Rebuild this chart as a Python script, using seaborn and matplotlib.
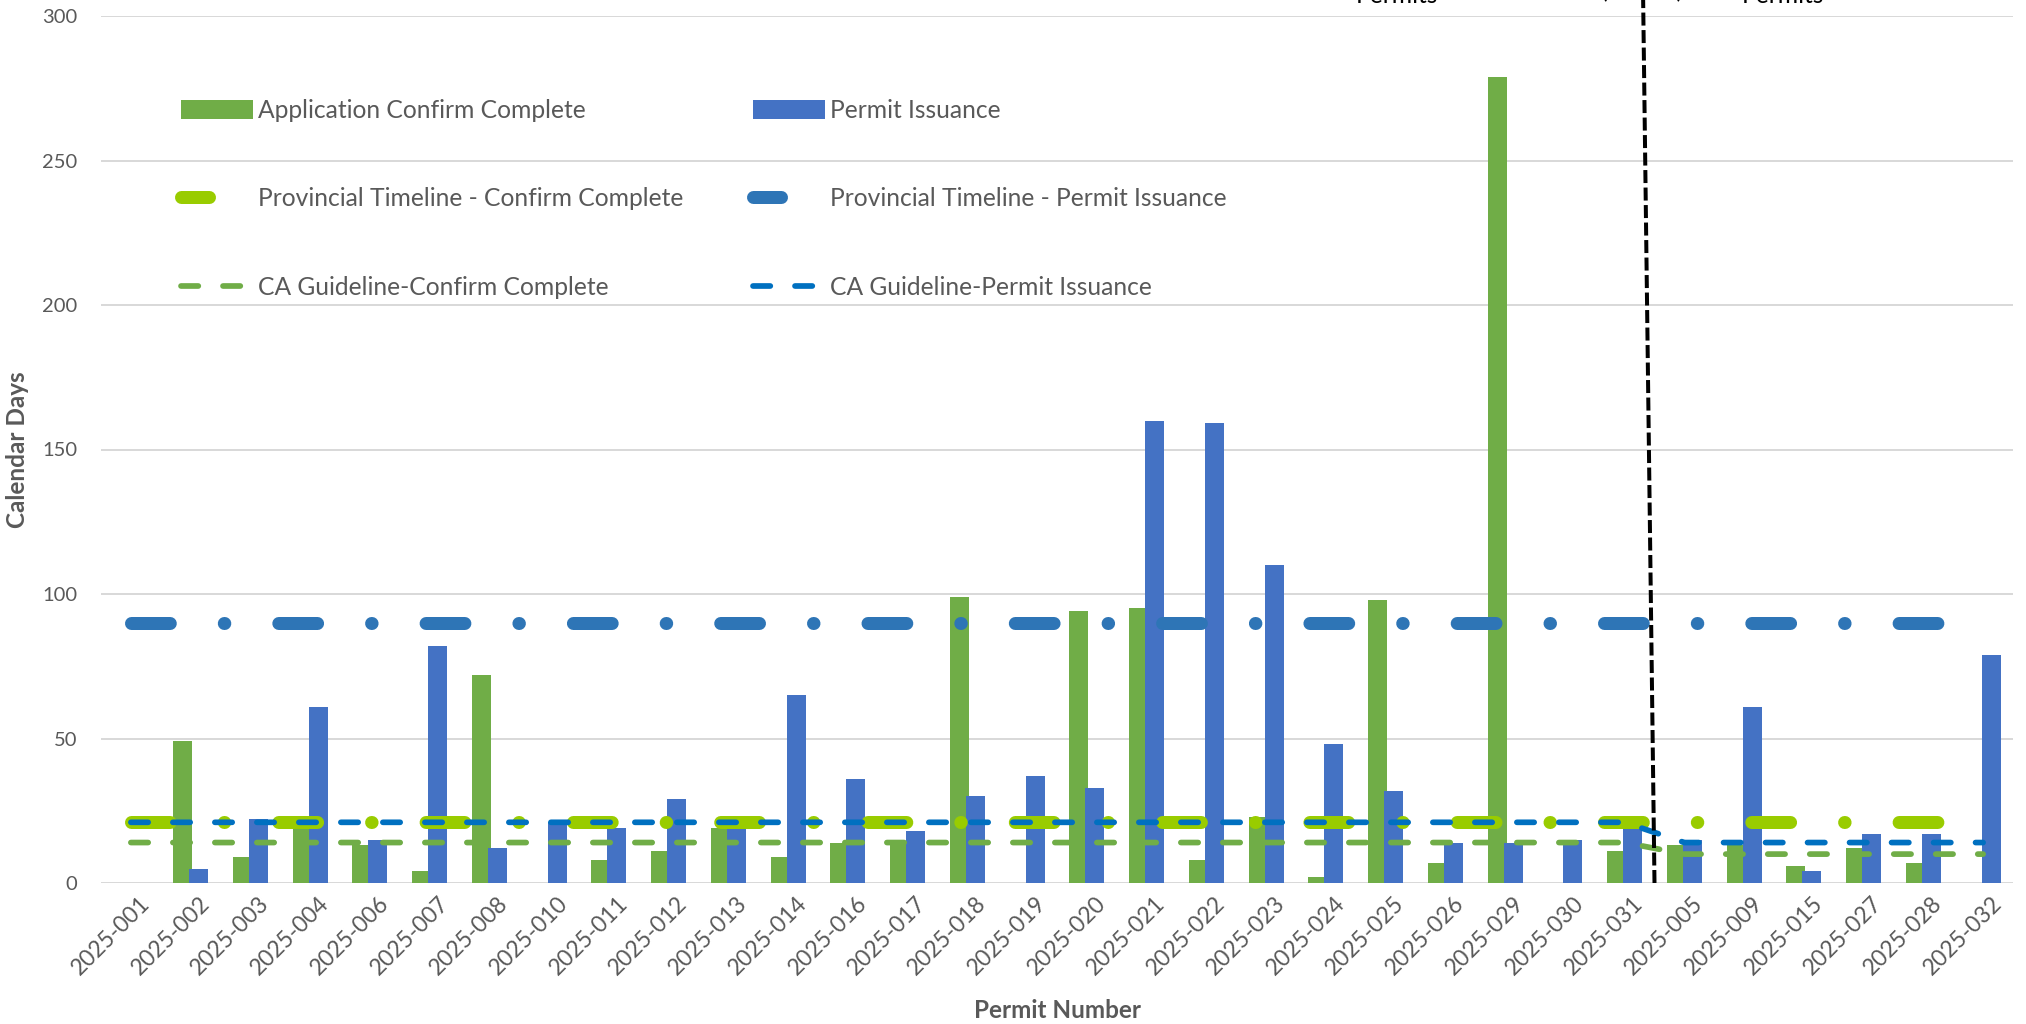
import matplotlib
matplotlib.use("Agg")
import matplotlib.pyplot as plt
from matplotlib.lines import Line2D
from matplotlib.patches import Patch
import matplotlib.transforms as mtransforms
import numpy as np
import pandas as pd
import seaborn as sns

# ---- data -------------------------------------------------------------
permits = [
    "2025-001", "2025-002", "2025-003", "2025-004", "2025-006", "2025-007",
    "2025-008", "2025-010", "2025-011", "2025-012", "2025-013", "2025-014",
    "2025-016", "2025-017", "2025-018", "2025-019", "2025-020", "2025-021",
    "2025-022", "2025-023", "2025-024", "2025-025", "2025-026", "2025-029",
    "2025-030", "2025-031", "2025-005", "2025-009", "2025-015", "2025-027",
    "2025-028", "2025-032",
]
confirm_days = [0, 49, 9, 21, 13, 4, 72, 0, 8, 11, 19, 9, 14, 14, 99, 0,
                94, 95, 8, 23, 2, 98, 7, 279, 0, 11, 13, 13, 6, 12, 7, 0]
issuance_days = [0, 5, 22, 61, 15, 82, 12, 21, 19, 29, 20, 65, 36, 18, 30, 37,
                 33, 160, 159, 110, 48, 32, 14, 14, 15, 20, 15, 61, 4, 17, 17, 79]
prov_confirm = [21, 21, 21, 21, 21, 21, 21, 21, 21, 21, 21, 21, 21, 21, 21, 21,
                21, 21, 21, 21, 21, 21, 21, 21, 21, 21, 21, 21, 21, 21, 21, 21]
prov_issuance = [90, 90, 90, 90, 90, 90, 90, 90, 90, 90, 90, 90, 90, 90, 90, 90,
                 90, 90, 90, 90, 90, 90, 90, 90, 90, 90, 90, 90, 90, 90, 90, 90]
ca_confirm = [14, 14, 14, 14, 14, 14, 14, 14, 14, 14, 14, 14, 14, 14, 14, 14,
              14, 14, 14, 14, 14, 14, 14, 14, 14, 14, 10, 10, 10, 10, 10, 10]
ca_issuance = [21, 21, 21, 21, 21, 21, 21, 21, 21, 21, 21, 21, 21, 21, 21, 21,
               21, 21, 21, 21, 21, 21, 21, 21, 21, 21, 14, 14, 14, 14, 14, 14]

bar_series = ["Application Confirm Complete", "Permit Issuance"]
y_ticks = [0, 50, 100, 150, 200, 250, 300]

# ---- style ------------------------------------------------------------
GREEN = "#70AD47"
BLUE = "#4472C4"
LIME = "#99CC00"
PROV_BLUE = "#2E75B6"
CA_BLUE = "#0070C0"
TEXT = "#595959"
GRID = "#D9D9D9"

sns.set_style("white")
plt.rcParams["font.family"] = ["Lato", "DejaVu Sans"]
plt.rcParams["lines.scale_dashes"] = False

W, H = 2026, 1024
fig = plt.figure(figsize=(W / 100, H / 100), dpi=100)
left, right, top, bottom = 101, 2013, 16, 883
ax = fig.add_axes([left / W, 1 - bottom / H, (right - left) / W, (bottom - top) / H])

# ---- bars -------------------------------------------------------------
df = pd.DataFrame({
    "permit": permits * 2,
    "days": confirm_days + issuance_days,
    "series": [bar_series[0]] * len(permits) + [bar_series[1]] * len(permits),
})
sns.barplot(data=df, x="permit", y="days", hue="series", order=permits,
            hue_order=bar_series, palette=[GREEN, BLUE], saturation=1,
            width=0.536, dodge=True, legend=False, linewidth=0, ax=ax, zorder=2)
# widen the bars a touch so neighbouring pairs just overlap
for p in ax.patches:
    cx = p.get_x() + p.get_width() / 2
    p.set_width(0.32)
    p.set_x(cx - 0.16)

# ---- reference lines --------------------------------------------------
x = np.arange(len(permits))
PX = 72 / 100  # points per pixel

prov_dash = (0, (38.8 * PX, 54 * PX, 0.5 * PX, 54 * PX))
ca_dash = (0, (17.3 * PX, 24.7 * PX))

def draw_line(values, color, lw_px, dash, z):
    sns.lineplot(x=x, y=values, ax=ax, color=color, lw=lw_px * PX,
                 linestyle=dash, zorder=z, legend=False)
    ln = ax.lines[-1]
    ln.set_dash_capstyle("round")
    ln.set_solid_capstyle("round")
    ln.set_linestyle(dash)
    return ln

draw_line(prov_confirm, LIME, 13, prov_dash, 3)
draw_line(prov_issuance, PROV_BLUE, 13, prov_dash, 3)
draw_line(ca_confirm, GREEN, 5.7, ca_dash, 4)
draw_line(ca_issuance, CA_BLUE, 5.7, ca_dash, 4)

# divider between the two permit groups
ax.plot([25.5, 25.31], [0, 305.6], color="black", lw=4 * PX,
        linestyle=(0, (13 * PX, 4.5 * PX)), dash_capstyle="butt",
        clip_on=False, zorder=5)

# ---- axes -------------------------------------------------------------
ax.set_xlim(-0.5, len(permits) - 0.5)
ax.set_ylim(0, 300)
ax.set_yticks(y_ticks)
ax.yaxis.grid(True, color=GRID, lw=2 * PX, zorder=0)
ax.xaxis.grid(False)
ax.set_axisbelow(True)
for s in ax.spines.values():
    s.set_visible(False)
ax.tick_params(axis="y", length=0, pad=17, labelsize=14.5, labelcolor=TEXT)
ax.tick_params(axis="x", length=0, pad=7, labelsize=16.5, labelcolor=TEXT)
ax.set_xticks(x)
ax.set_xticklabels(permits, rotation=45, ha="right", va="top",
                   rotation_mode="anchor")
shift = mtransforms.ScaledTranslation(8 / 100, 0, fig.dpi_scale_trans)
for lbl in ax.get_xticklabels():
    lbl.set_transform(lbl.get_transform() + shift)

ax.set_ylabel("Calendar Days", fontsize=17.5, fontweight="bold", color=TEXT,
              va="center")
ax.set_xlabel("Permit Number", fontsize=17.5, fontweight="bold", color=TEXT,
              va="center")
ax.yaxis.set_label_coords(
    18 / W, 0.5,
    transform=mtransforms.blended_transform_factory(fig.transFigure, ax.transAxes))
ax.xaxis.set_label_coords(
    0.5, 1 - 1010 / H,
    transform=mtransforms.blended_transform_factory(ax.transAxes, fig.transFigure))

# ---- legend -----------------------------------------------------------
handles = [
    Patch(facecolor=GREEN, edgecolor="none"),
    Line2D([], [], color=LIME, lw=13 * PX, solid_capstyle="round",
           dash_capstyle="round", linestyle=(0, (28 * PX, 60 * PX))),
    Line2D([], [], color=GREEN, lw=5.7 * PX, dash_capstyle="round",
           linestyle=ca_dash),
    Patch(facecolor=BLUE, edgecolor="none"),
    Line2D([], [], color=PROV_BLUE, lw=13 * PX, solid_capstyle="round",
           dash_capstyle="round", linestyle=(0, (28 * PX, 60 * PX))),
    Line2D([], [], color=CA_BLUE, lw=5.7 * PX, dash_capstyle="round",
           linestyle=ca_dash),
]
labels = [
    "Application Confirm Complete",
    "Provincial Timeline - Confirm Complete",
    "CA Guideline-Confirm Complete",
    "Permit Issuance",
    "Provincial Timeline - Permit Issuance",
    "CA Guideline-Permit Issuance",
]
fig.legend(handles, labels, ncol=2, loc="upper left", frameon=False,
           bbox_to_anchor=(181 / W, 1 - 99 / H), borderpad=0, borderaxespad=0,
           fontsize=17.7, labelcolor=TEXT, handlelength=2.93, handleheight=0.82,
           handletextpad=0.2, labelspacing=2.66, columnspacing=2.85)

# ---- group captions above the plot ------------------------------------
cap_y = 1 - 3 / H
fig.text(1397 / W, cap_y, "Existing\nPermits", ha="center", va="baseline",
         fontsize=17.7, color="black", linespacing=1.1)
fig.text(1642 / W, 1 + 2 / H, "(Cutoff)", ha="center", va="baseline",
         fontsize=17.7, color="black")
fig.text(1783 / W, cap_y, "New\nPermits", ha="center", va="baseline",
         fontsize=17.7, color="black", linespacing=1.1)

fig.savefig("out.png", dpi=100)
